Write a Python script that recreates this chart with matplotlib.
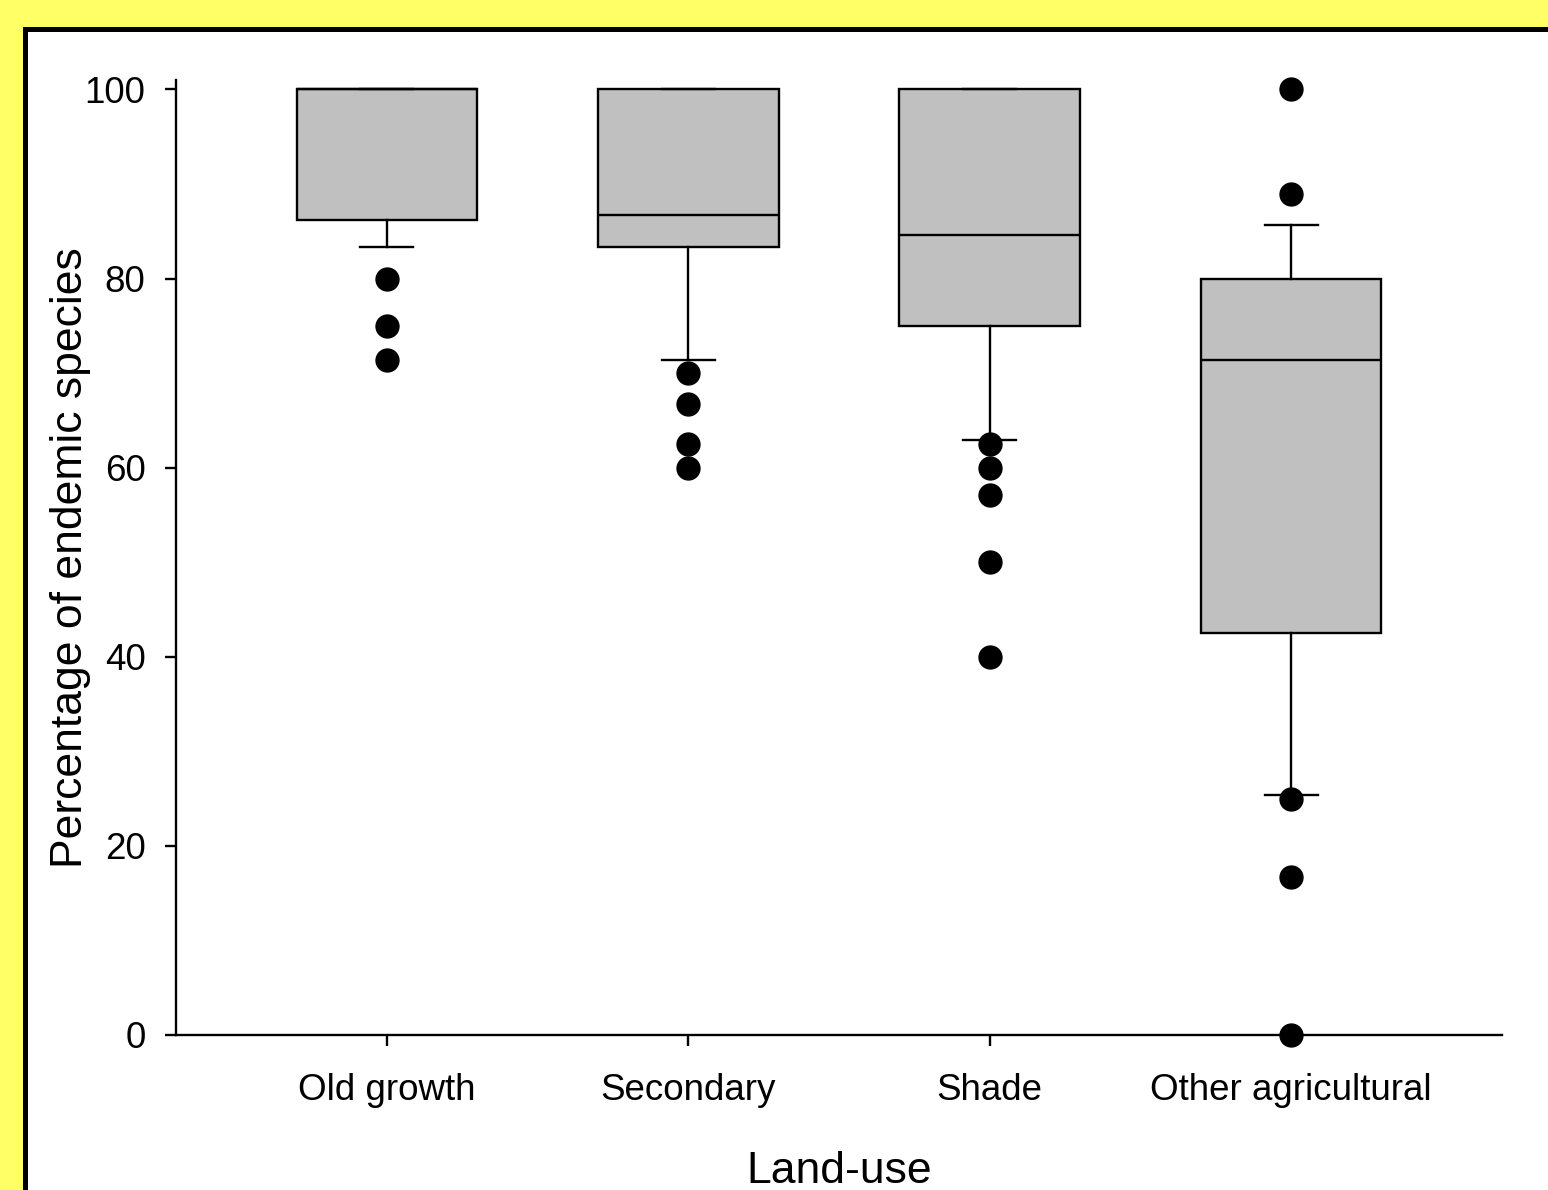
import matplotlib
matplotlib.use("Agg")
import matplotlib.pyplot as plt
from matplotlib.patches import Rectangle

plt.rcParams['font.family'] = ['Liberation Sans', 'DejaVu Sans']

# land-use categories and summary statistics (percent endemic species)
land_use = ["Old growth", "Secondary", "Shade", "Other agricultural"]
q1 = [86.2, 83.3, 75.0, 42.5]
median = [100.0, 86.7, 84.6, 71.4]
q3 = [100.0, 100.0, 100.0, 80.0]
whisker_low = [83.3, 71.4, 62.9, 25.4]
whisker_high = [100.0, 100.0, 100.0, 85.7]
outliers = [
    [80.0, 75.0, 71.4],
    [70.0, 66.7, 62.5, 60.0],
    [62.5, 60.0, 57.1, 50.0, 40.0],
    [100.0, 88.9, 25.0, 16.7, 0.0],
]
y_ticks = [0, 20, 40, 60, 80, 100]

stats = []
for i, name in enumerate(land_use):
    stats.append({
        "label": name,
        "q1": q1[i], "med": median[i], "q3": q3[i],
        "whislo": whisker_low[i], "whishi": whisker_high[i],
        "fliers": outliers[i],
    })

fig = plt.figure(figsize=(15.48, 11.9), dpi=100)
fig.patch.set_facecolor("#ffff66")

# white panel with heavy black border
frame = Rectangle((24.5 / 1548, -0.05), 1.2, 1.05 - 29 / 1190,
                  transform=fig.transFigure, facecolor="white",
                  edgecolor="black", linewidth=3.6, zorder=-10)
fig.patches.append(frame)

ax = fig.add_axes([176 / 1548, 1 - 1035 / 1190, (1502 - 176) / 1548, (1035 - 80) / 1190])
ax.set_facecolor("none")
ax.set_zorder(5)

parts = ax.bxp(stats, positions=[1, 2, 3, 4], widths=0.6, patch_artist=True,
               showfliers=True,
               boxprops=dict(facecolor="#c0c0c0", edgecolor="black", linewidth=1.7),
               medianprops=dict(color="black", linewidth=1.7),
               whiskerprops=dict(color="black", linewidth=1.7),
               capprops=dict(color="black", linewidth=1.7),
               capwidths=0.176,
               flierprops=dict(marker="o", markerfacecolor="black",
                               markeredgecolor="black", markersize=16.5,
                               linestyle="none"))
# dots sitting on 0 and 100 should not be cut by the axes edge
for fl in parts["fliers"]:
    fl.set_clip_on(False)
    fl.set_zorder(6)

ax.set_xlim(0.3, 4.7)
ax.set_ylim(0, 101)
ax.set_yticks(y_ticks)
ax.set_xticks([1, 2, 3, 4])
ax.set_xticklabels(land_use)

for side in ("top", "right"):
    ax.spines[side].set_visible(False)
for side in ("left", "bottom"):
    ax.spines[side].set_linewidth(1.7)

ax.tick_params(axis="both", direction="out", length=8, width=1.7,
               labelsize=26.5)
ax.tick_params(axis="y", pad=14)
ax.tick_params(axis="x", pad=19)

ax.set_xlabel("Land-use", fontsize=32, va="baseline")
ax.xaxis.set_label_coords(0.5, -0.155)
ax.set_ylabel("Percentage of endemic species", fontsize=32, va="baseline")
ax.yaxis.set_label_coords(-0.0709, 0.5)

fig.savefig("out.png", dpi=100, facecolor=fig.get_facecolor())
